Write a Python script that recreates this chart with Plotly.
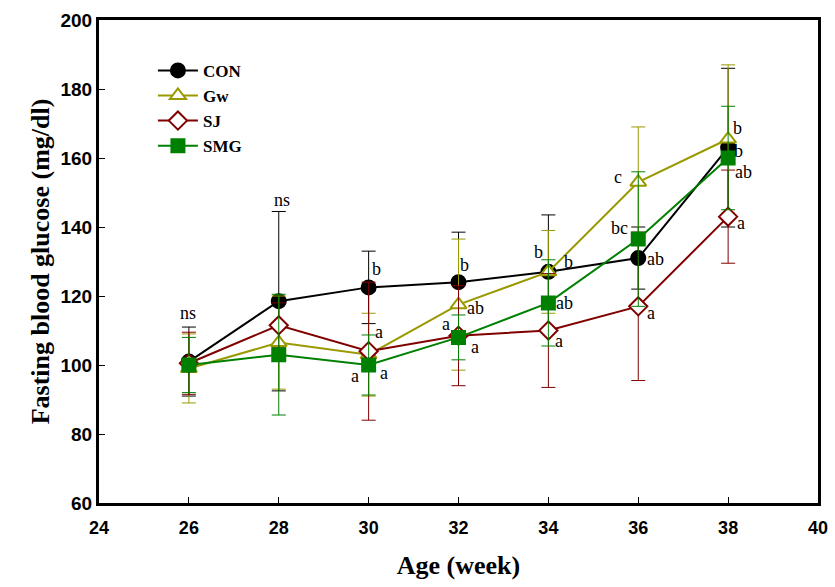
import plotly.graph_objects as go

weeks = [26, 28, 30, 32, 34, 36, 38]

CON = [101, 118.5, 122.5, 124, 127, 131, 163]
CON_sd = [10, 26, 10.5, 14.5, 16.5, 9, 23]
Gw = [99, 106.5, 103, 117.5, 127, 153, 165.5]
Gw_sd = [10, 13.5, 12, 19, 12, 16, 21.5]
SJ = [100.5, 111.5, 104, 108.5, 110, 117, 143]
SJ_sd = [9, 6.5, 20, 14.5, 16.5, 21.5, 13.5]
SMG = [100, 103, 100, 108, 118, 136.5, 160]
SMG_sd = [8, 17.5, 8.7, 6.5, 12.5, 19.5, 15]

series_names = ["CON", "Gw", "SJ", "SMG"]

ann_text = ["ns", "ns",
            "b", "a", "a", "a",
            "b", "ab", "a", "a",
            "b", "b", "ab", "a",
            "c", "bc", "ab", "a",
            "b", "b", "ab", "a"]
ann_x = [25.98, 28.08,
         30.17, 30.23, 29.69, 30.34,
         32.13, 32.38, 31.73, 32.36,
         33.79, 34.45, 34.36, 34.23,
         35.54, 35.58, 36.38, 36.29,
         38.20, 38.23, 38.34, 38.29]
ann_y = [115.0, 147.8,
         127.7, 109.7, 96.8, 97.6,
         129.0, 116.4, 111.9, 105.1,
         132.8, 129.8, 117.9, 107.0,
         154.6, 139.8, 130.7, 115.2,
         168.6, 162.1, 156.0, 141.1]

styles = {
    "CON": dict(color="#000000", symbol="circle", fill="#000000"),
    "Gw": dict(color="#999900", symbol="triangle-up", fill="#ffffff"),
    "SJ": dict(color="#800000", symbol="diamond", fill="#ffffff"),
    "SMG": dict(color="#008000", symbol="square", fill="#008000"),
}
values = {"CON": (CON, CON_sd), "Gw": (Gw, Gw_sd), "SJ": (SJ, SJ_sd), "SMG": (SMG, SMG_sd)}

fig = go.Figure()
for name in series_names:
    st = styles[name]
    y, sd = values[name]
    fig.add_trace(go.Scatter(
        x=weeks, y=y, name=name, mode="lines+markers",
        line=dict(color=st["color"], width=2),
        marker=dict(symbol=st["symbol"], size=14 if name != "SMG" else 13,
                    color=st["fill"], line=dict(color=st["color"], width=2)),
        error_y=dict(type="data", array=sd, visible=True, color=st["color"],
                     thickness=1, width=7),
    ))

for t, x, y in zip(ann_text, ann_x, ann_y):
    fig.add_annotation(x=x, y=y, text=t, showarrow=False, xref="x", yref="y",
                       font=dict(family="Liberation Serif", size=18, color="#000000"))

fig.update_layout(
    width=835, height=587,
    margin=dict(l=99, r=17, t=20, b=84),
    paper_bgcolor="white", plot_bgcolor="white",
    showlegend=True,
    legend=dict(x=0.075, y=0.932, xanchor="left", yanchor="top",
                bgcolor="rgba(0,0,0,0)",
                font=dict(family="Liberation Serif", size=17, color="#000000", weight="bold"),
                itemwidth=40, tracegroupgap=0),
    xaxis=dict(range=[24, 40], tickvals=[24, 26, 28, 30, 32, 34, 36, 38, 40],
               automargin=False,
               showgrid=False, zeroline=False, showline=True, linecolor="black",
               linewidth=3, mirror=True, ticks="inside", ticklen=6, tickcolor="black",
               tickwidth=1, ticklabelstandoff=6,
               tickfont=dict(family="Liberation Sans", size=18, color="#000000", weight="bold"),
               title=dict(text="Age (week)", standoff=20,
                          font=dict(family="Liberation Serif", size=26, color="#000000", weight="bold"))),
    yaxis=dict(range=[60, 200], tickvals=[60, 80, 100, 120, 140, 160, 180, 200],
               automargin=False,
               showgrid=False, zeroline=False, showline=True, linecolor="black",
               linewidth=3, mirror=True, ticks="inside", ticklen=6, tickcolor="black",
               tickwidth=1,
               tickfont=dict(family="Liberation Sans", size=19, color="#000000", weight="bold"),
               title=dict(text="Fasting blood glucose (mg/dl)", standoff=4,
                          font=dict(family="Liberation Serif", size=26, color="#000000", weight="bold"))),
)

fig.write_html("out.html")
